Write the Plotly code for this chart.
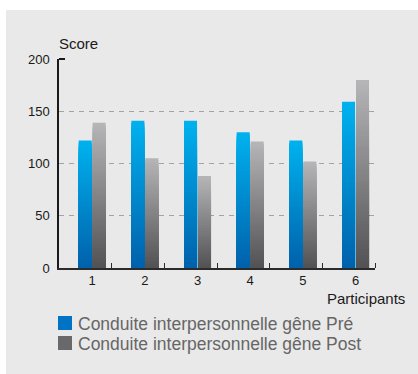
import plotly.graph_objects as go

# Scores per participant, before and after
participants = [1, 2, 3, 4, 5, 6]
pre_scores = [122, 141, 141, 130, 122, 159]
post_scores = [139, 105, 88, 121, 102, 180]

series_names = ["Conduite interpersonnelle gêne Pré", "Conduite interpersonnelle gêne Post"]
y_ticks = [0, 50, 100, 150, 200]

FONT = "Liberation Sans, Arial, Helvetica, sans-serif"
W, H = 418, 374
L, R, T, B = 59, 43, 59, 106
PW, PH = W - L - R, H - T - B

# vertical gradient (bottom colour, top colour) for each series
gradients = [((0, 97, 171), (0, 178, 239)), ((82, 82, 84), (182, 182, 184))]
swatch_colors = ["#0073c4", "#69696b"]
N_BANDS = 60


def mix(c0, c1, t):
    return "rgb({},{},{})".format(*[round(a + (b - a) * t) for a, b in zip(c0, c1)])


def px_x(p):
    return (p - L) / PW


def px_y(p):
    return (H - B - p) / PH


fig = go.Figure()

# Each bar is painted as nested bars from zero: the full-height one in the top
# colour first, then progressively shorter, darker ones over it, so only a thin
# band of each stays visible and the fill reads as a smooth vertical gradient.
for name, vals, (bottom, top) in zip(series_names, [pre_scores, post_scores], gradients):
    for k in range(N_BANDS, 0, -1):
        fig.add_trace(go.Bar(
            x=participants,
            y=[v * k / N_BANDS for v in vals],
            offsetgroup=name,
            marker=dict(color=mix(bottom, top, (k - 0.5) / N_BANDS), line=dict(width=0)),
            showlegend=False,
            hoverinfo="skip",
        ))

shapes = [
    # light grey panel behind the chart
    dict(type="rect", xref="paper", yref="paper", layer="below",
         x0=px_x(6), x1=px_x(W + 2), y0=px_y(H + 2), y1=px_y(10),
         fillcolor="#e9e9e9", line=dict(width=0)),
]
annotations = [
    dict(text="Score", xref="paper", yref="paper", x=px_x(57), y=px_y(43),
         xanchor="left", yanchor="middle", showarrow=False,
         font=dict(family=FONT, size=15, color="#1a1a1a")),
    dict(text="Participants", xref="paper", yref="paper", x=px_x(407), y=px_y(298),
         xanchor="right", yanchor="middle", showarrow=False,
         font=dict(family=FONT, size=15, color="#1a1a1a")),
]
# legend drawn as swatches with labels
for i, (name, col) in enumerate(zip(series_names, swatch_colors)):
    top_px = 316 + 20 * i
    shapes.append(dict(type="rect", xref="paper", yref="paper",
                       x0=px_x(58), x1=px_x(72), y0=px_y(top_px + 14), y1=px_y(top_px),
                       fillcolor=col, line=dict(width=0)))
    annotations.append(dict(text=name, xref="paper", yref="paper",
                            x=px_x(75.5), y=px_y(top_px + 7.5),
                            xanchor="left", yanchor="middle", showarrow=False,
                            font=dict(family=FONT, size=17.5, color="#666666")))

fig.update_layout(
    width=W, height=H,
    margin=dict(l=L, r=R, t=T, b=B, pad=0),
    paper_bgcolor="white",
    plot_bgcolor="rgba(0,0,0,0)",
    barmode="group",
    bargap=0.469,
    bargroupgap=0.07,
    showlegend=False,
    font=dict(family=FONT, size=13, color="#1a1a1a"),
    shapes=shapes,
    annotations=annotations,
)

fig.update_xaxes(
    range=[0.37, 6.37],
    tickmode="array", tickvals=participants, ticktext=[str(p) for p in participants],
    ticks="", showgrid=False, zeroline=False,
    showline=True, linecolor="#2b2b2b", linewidth=1.5,
    tickfont=dict(size=13),
    minor=dict(tickmode="array", tickvals=[p + 0.37 for p in participants],
               ticks="inside", ticklen=5, tickwidth=1, tickcolor="#2b2b2b", showgrid=False),
)
fig.update_yaxes(
    range=[0, 200],
    tickmode="array", tickvals=y_ticks,
    ticks="", ticklabelstandoff=5,
    showgrid=True, gridcolor="#a3a3a3", gridwidth=1, griddash="5px,5px",
    zeroline=False,
    showline=True, linecolor="#1a1a1a", linewidth=1.5,
    tickfont=dict(size=13),
    minor=dict(tickmode="array", tickvals=[y_ticks[-1]],
               ticks="inside", ticklen=6, tickwidth=1.5, tickcolor="#1a1a1a", showgrid=False),
)

fig.write_html("out.html")
